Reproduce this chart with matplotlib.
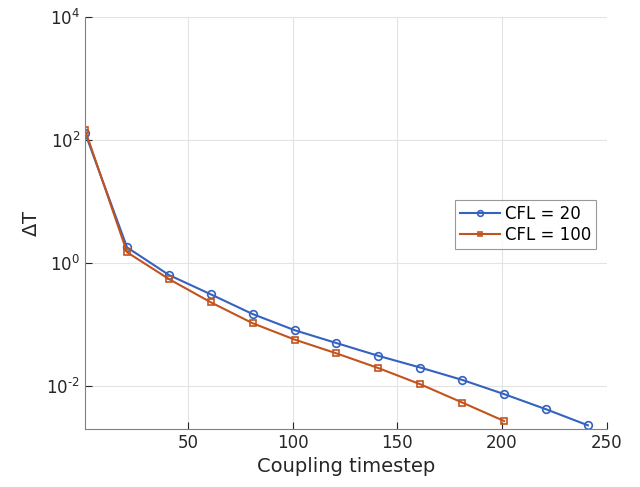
import matplotlib.pyplot as plt

# coupling timesteps and temperature change for each CFL number
steps_cfl20 = [1, 21, 41, 61, 81, 101, 121, 141, 161, 181, 201, 221, 241]
dT_cfl20 = [130, 1.8, 0.64, 0.31, 0.148, 0.081, 0.050, 0.031, 0.020,
            0.0126, 0.0074, 0.0042, 0.0023]

steps_cfl100 = [1, 21, 41, 61, 81, 101, 121, 141, 161, 181, 201]
dT_cfl100 = [145, 1.5, 0.55, 0.23, 0.105, 0.057, 0.034, 0.0196, 0.0107,
             0.0054, 0.0027]

blue = '#3462c0'
red = '#c2531d'

fig = plt.figure(figsize=(6.4, 4.87), dpi=100)
ax = fig.add_axes([0.133, 0.119, 0.815, 0.846])

ax.semilogy(steps_cfl20, dT_cfl20, '-o', color=blue, lw=1.5, ms=5.5,
            mfc='none', mew=1.2, label='CFL = 20')
ax.semilogy(steps_cfl100, dT_cfl100, '-s', color=red, lw=1.5, ms=4.5,
            mfc='none', mew=1.2, label='CFL = 100')

ax.set_xlim(1, 250)
ax.set_ylim(0.002, 1e4)
ax.set_xticks([50, 100, 150, 200, 250])
ax.set_yticks([1e-2, 1e0, 1e2, 1e4])
ax.set_yticklabels([r'$10^{\text{-}2}$', '$10^{0}$', '$10^{2}$', '$10^{4}$'])
ax.minorticks_off()
ax.tick_params(direction='in', labelsize=12, colors='#262626', length=5)

ax.grid(True, color='#e3e3e3', lw=0.8)
ax.set_axisbelow(True)
for side in ['top', 'right']:
    ax.spines[side].set_visible(False)
for side in ['left', 'bottom']:
    ax.spines[side].set_color('#808080')

ax.set_xlabel('Coupling timestep', fontsize=14, color='#262626')
ax.set_ylabel(r'$\Delta$T', fontsize=14, color='#262626')

leg = ax.legend(loc='upper right', bbox_to_anchor=(0.979, 0.556),
                borderaxespad=0, fancybox=False, fontsize=12,
                handlelength=2.4, handletextpad=0.3, borderpad=0.3,
                labelspacing=0.2, markerscale=0.75)
leg.get_frame().set_edgecolor('#808080')
leg.get_frame().set_linewidth(0.8)

fig.savefig('out.png', dpi=100)
